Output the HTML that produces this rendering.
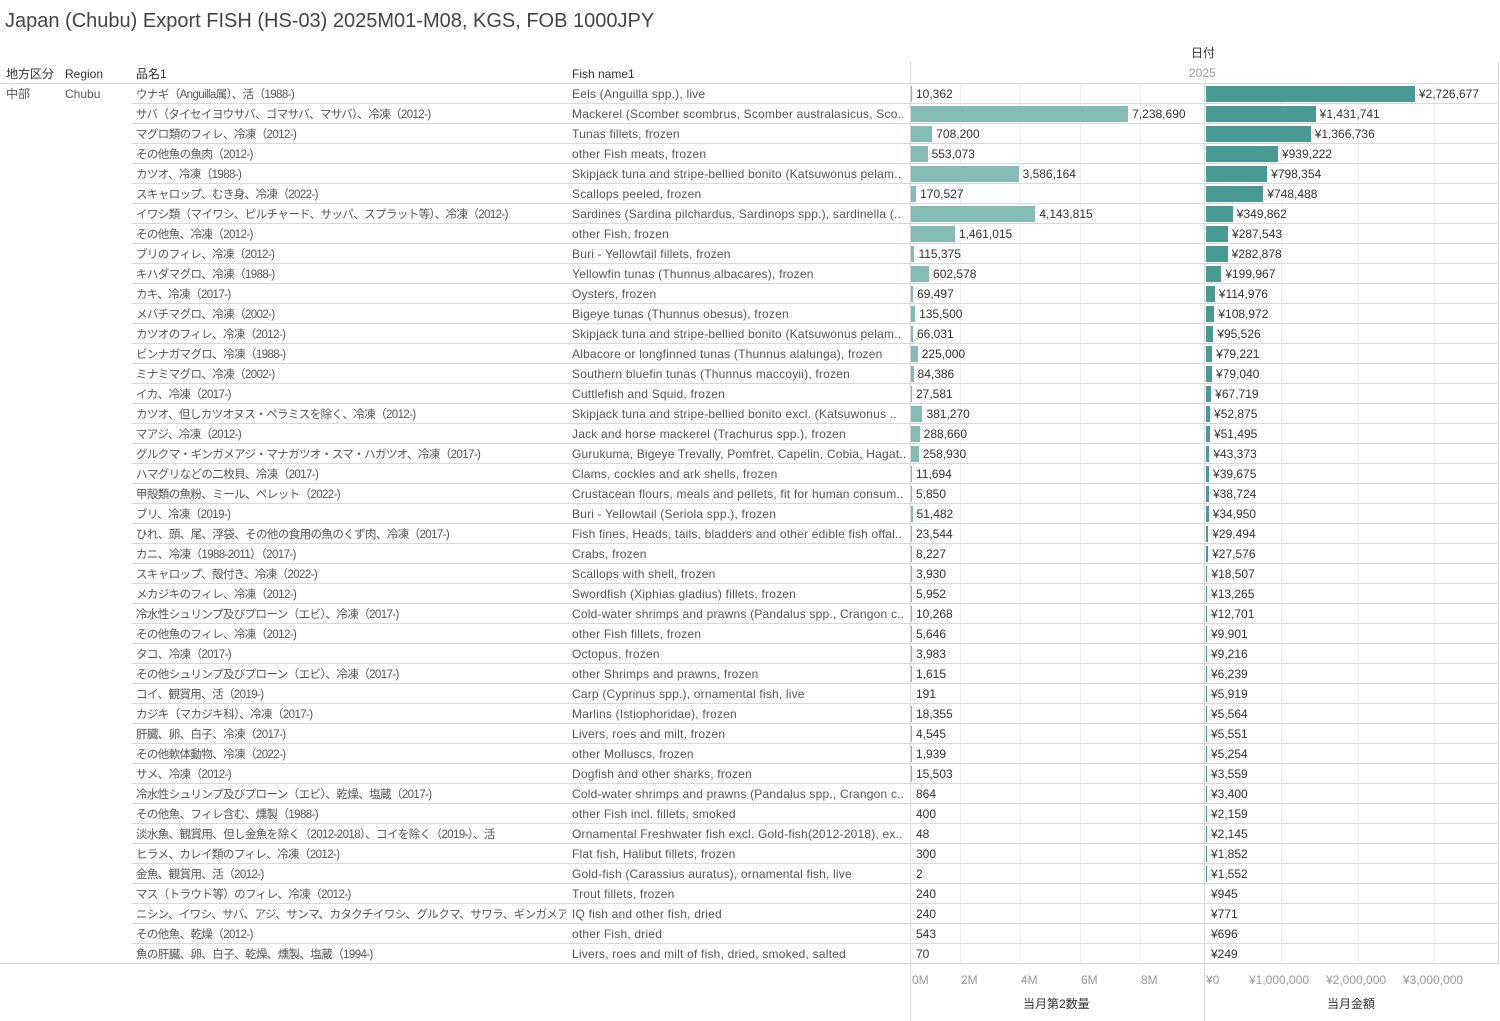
<!DOCTYPE html>
<html><head><meta charset="utf-8"><style>
body{margin:0;width:1500px;height:1021px;background:#fff;font-family:"Liberation Sans","Noto Sans CJK JP",sans-serif;color:#555;overflow:hidden;position:relative}
.a{position:absolute;white-space:nowrap;font-size:12px;line-height:20px}
.h{color:#333;font-size:12px}
.l{position:absolute;background:#d8d8d8}
.g{position:absolute;background:#efefef;width:1px}
.b{position:absolute;height:16px}
</style></head><body>
<div class="a" style="left:5px;top:8px;font-size:20px;line-height:26px;color:#444">Japan (Chubu) Export FISH (HS-03) 2025M01-M08, KGS, FOB 1000JPY</div>
<div id="c"></div>
<div class="a h" style="left:1191px;top:43px">日付</div>
<div class="a" style="left:1189px;top:63px;color:#999;background:#fff">2025</div>
<div class="a h" style="left:6px;top:64px">地方区分</div>
<div class="a h" style="left:65px;top:64px">Region</div>
<div class="a h" style="left:136px;top:64px">品名1</div>
<div class="a h" style="left:572px;top:64px">Fish name1</div>
<div class="a" style="left:6px;top:84px">中部</div>
<div class="a" style="left:65px;top:84px">Chubu</div>
<div class="a" style="left:912px;top:970px;color:#999">0M</div>
<div class="a" style="left:961px;top:970px;color:#999">2M</div>
<div class="a" style="left:1021px;top:970px;color:#999">4M</div>
<div class="a" style="left:1081px;top:970px;color:#999">6M</div>
<div class="a" style="left:1141px;top:970px;color:#999">8M</div>
<div class="a" style="left:1206px;top:970px;color:#999">¥0</div>
<div class="a" style="left:1249px;top:970px;color:#999">¥1,000,000</div>
<div class="a" style="left:1326px;top:970px;color:#999">¥2,000,000</div>
<div class="a" style="left:1403px;top:970px;color:#999">¥3,000,000</div>
<div class="a h" style="left:1023px;top:994px">当月第2数量</div>
<div class="a h" style="left:1327px;top:994px">当月金額</div>
<script>
const R=[
["ウナギ（Anguilla属）、活（1988-)","Eels (Anguilla spp.), live",10362,2726677],
["サバ（タイセイヨウサバ、ゴマサバ、マサバ）、冷凍（2012-)","Mackerel (Scomber scombrus, Scomber australasicus, Sco..",7238690,1431741],
["マグロ類のフィレ、冷凍（2012-)","Tunas fillets, frozen",708200,1366736],
["その他魚の魚肉（2012-)","other Fish meats, frozen",553073,939222],
["カツオ、冷凍（1988-)","Skipjack tuna and stripe-bellied bonito (Katsuwonus pelam..",3586164,798354],
["スキャロップ、むき身、冷凍（2022-)","Scallops peeled, frozen",170527,748488],
["イワシ類（マイワシ、ピルチャード、サッパ、スプラット等）、冷凍（2012-)","Sardines (Sardina pilchardus, Sardinops spp.), sardinella (..",4143815,349862],
["その他魚、冷凍（2012-)","other Fish, frozen",1461015,287543],
["ブリのフィレ、冷凍（2012-)","Buri - Yellowtail fillets, frozen",115375,282878],
["キハダマグロ、冷凍（1988-)","Yellowfin tunas (Thunnus albacares), frozen",602578,199967],
["カキ、冷凍（2017-)","Oysters, frozen",69497,114976],
["メバチマグロ、冷凍（2002-)","Bigeye tunas (Thunnus obesus), frozen",135500,108972],
["カツオのフィレ、冷凍（2012-)","Skipjack tuna and stripe-bellied bonito (Katsuwonus pelam..",66031,95526],
["ビンナガマグロ、冷凍（1988-)","Albacore or longfinned tunas (Thunnus alalunga), frozen",225000,79221],
["ミナミマグロ、冷凍（2002-)","Southern bluefin tunas (Thunnus maccoyii), frozen",84386,79040],
["イカ、冷凍（2017-)","Cuttlefish and Squid, frozen",27581,67719],
["カツオ、但しカツオヌス・ペラミスを除く、冷凍（2012-)","Skipjack tuna and stripe-bellied bonito excl. (Katsuwonus ..",381270,52875],
["マアジ、冷凍（2012-)","Jack and horse mackerel (Trachurus spp.), frozen",288660,51495],
["グルクマ・ギンガメアジ・マナガツオ・スマ・ハガツオ、冷凍（2017-)","Gurukuma, Bigeye Trevally, Pomfret, Capelin, Cobia, Hagat..",258930,43373],
["ハマグリなどの二枚貝、冷凍（2017-)","Clams, cockles and ark shells, frozen",11694,39675],
["甲殻類の魚粉、ミール、ペレット（2022-)","Crustacean flours, meals and pellets, fit for human consum..",5850,38724],
["ブリ、冷凍（2019-)","Buri - Yellowtail (Seriola spp.), frozen",51482,34950],
["ひれ、頭、尾、浮袋、その他の食用の魚のくず肉、冷凍（2017-)","Fish fines, Heads, tails, bladders and other edible fish offal..",23544,29494],
["カニ、冷凍（1988-2011）（2017-)","Crabs, frozen",8227,27576],
["スキャロップ、殻付き、冷凍（2022-)","Scallops with shell, frozen",3930,18507],
["メカジキのフィレ、冷凍（2012-)","Swordfish (Xiphias gladius) fillets, frozen",5952,13265],
["冷水性シュリンプ及びプローン（エビ）、冷凍（2017-)","Cold-water shrimps and prawns (Pandalus spp., Crangon c..",10268,12701],
["その他魚のフィレ、冷凍（2012-)","other Fish fillets, frozen",5646,9901],
["タコ、冷凍（2017-)","Octopus, frozen",3983,9216],
["その他シュリンプ及びプローン（エビ）、冷凍（2017-)","other Shrimps and prawns, frozen",1615,6239],
["コイ、観賞用、活（2019-)","Carp (Cyprinus spp.), ornamental fish, live",191,5919],
["カジキ（マカジキ科）、冷凍（2017-)","Marlins (Istiophoridae), frozen",18355,5564],
["肝臓、卵、白子、冷凍（2017-)","Livers, roes and milt, frozen",4545,5551],
["その他軟体動物、冷凍（2022-)","other Molluscs, frozen",1939,5254],
["サメ、冷凍（2012-)","Dogfish and other sharks, frozen",15503,3559],
["冷水性シュリンプ及びプローン（エビ）、乾燥、塩蔵（2017-)","Cold-water shrimps and prawns (Pandalus spp., Crangon c..",864,3400],
["その他魚、フィレ含む、燻製（1988-)","other Fish incl. fillets, smoked",400,2159],
["淡水魚、観賞用、但し金魚を除く（2012-2018）、コイを除く（2019-）、活","Ornamental Freshwater fish excl. Gold-fish(2012-2018), ex..",48,2145],
["ヒラメ、カレイ類のフィレ、冷凍（2012-)","Flat fish, Halibut fillets, frozen",300,1852],
["金魚、観賞用、活（2012-)","Gold-fish (Carassius auratus), ornamental fish, live",2,1552],
["マス（トラウト等）のフィレ、冷凍（2012-)","Trout fillets, frozen",240,945],
["ニシン、イワシ、サバ、アジ、サンマ、カタクチイワシ、グルクマ、サワラ、ギンガメアジ、スギ、マナ..","IQ fish and other fish, dried",240,771],
["その他魚、乾燥（2012-)","other Fish, dried",543,696],
["魚の肝臓、卵、白子、乾燥、燻製、塩蔵（1994-)","Livers, roes and milt of fish, dried, smoked, salted",70,249]];
let h='';
const f=n=>n.toLocaleString('en-US');
[960,1020,1080,1140].forEach(x=>h+=`<div class="g" style="left:${x}px;top:84px;height:880px"></div>`);
[1281,1358,1434].forEach(x=>h+=`<div class="g" style="left:${x}px;top:84px;height:880px"></div>`);
h+=`<div class="l" style="left:0;top:83px;width:1498px;height:1px"></div>`;
R.forEach((r,i)=>{const y=84+i*20;
if(i>0)h+=`<div class="l" style="left:132px;top:${y-1}px;width:1366px;height:1px"></div>`;
h+=`<div class="a" style="left:136px;top:${y+1}px;width:430px;overflow:hidden;font-size:11.5px;letter-spacing:-0.6px">${r[0]}</div><div class="a" style="left:572px;top:${y}px;width:336px;overflow:hidden;letter-spacing:0.2px">${r[1]}</div>`;
let w1=Math.max(1,r[2]*30/1e6),w2=Math.max(1,r[3]*76.6/1e6);
if(r[2]>1000)h+=`<div class="b" style="left:911px;top:${y+2}px;width:${w1}px;background:#86bcb6"></div>`;
if(r[3]>1000)h+=`<div class="b" style="left:1206px;top:${y+2}px;width:${w2}px;background:#4a9a94"></div>`;
h+=`<div class="a" style="left:${911+Math.max(w1,1)+4}px;top:${y}px;color:#333">${f(r[2])}</div>`;
h+=`<div class="a" style="left:${1206+Math.max(w2,1)+4}px;top:${y}px;color:#333">¥${f(r[3])}</div>`;});
h+=`<div class="l" style="left:0;top:963px;width:1498px;height:1px"></div>`;
h+=`<div class="l" style="left:910px;top:62px;width:1px;height:959px"></div><div class="l" style="left:1204px;top:84px;width:1px;height:937px"></div><div class="l" style="left:1498px;top:62px;width:1px;height:902px"></div>`;
document.getElementById('c').innerHTML=h;
</script>
</body></html>
